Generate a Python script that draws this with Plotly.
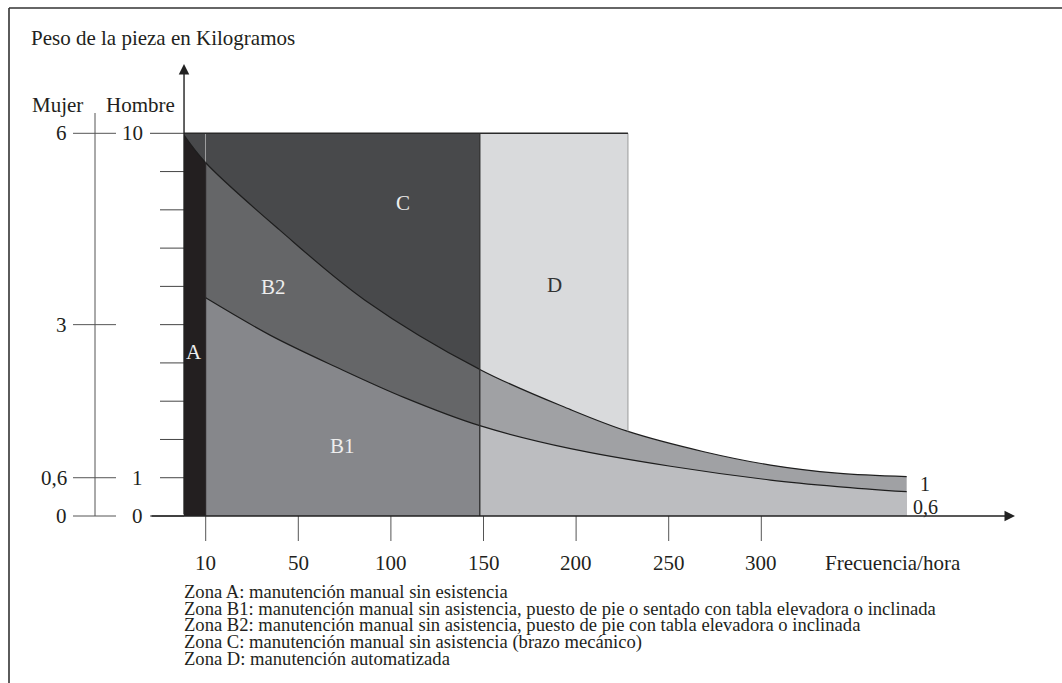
import plotly.graph_objects as go

# ---------------- data ----------------
freq_tick_labels = ["10", "50", "100", "150", "200", "250", "300"]
freq_tick_pos = [0, 50, 100, 150, 200, 250, 300]

hombre_ticks = [0, 1, 2, 3, 4, 5, 6, 7, 8, 9, 10]
hombre_labeled = {0: "0", 1: "1", 10: "10"}
mujer_values = [0, 0.6, 3, 6]
mujer_labels = ["0", "0,6", "3", "6"]
mujer_factor = 0.6

# boundary curves (x = frequency-axis position, y = kg, Hombre scale)
upper_x = [-11.7, 0, 40, 86, 148, 197, 228, 269, 305, 341, 378.5]
upper_y = [9.95, 9.23, 7.47, 5.64, 3.83, 2.78, 2.21, 1.68, 1.33, 1.12, 1.03]
lower_x = [0, 35, 71, 107, 148, 197, 251, 305, 341, 378.5]
lower_y = [5.70, 4.72, 3.88, 3.10, 2.36, 1.76, 1.30, 0.94, 0.77, 0.635]

axis_start = -11.7
zone_a_end = 0
zone_bc_end = 148
zone_d_end = 228
weight_max = 10

zone_names = ["C", "B2", "A", "B1", "D"]
end_labels = ["1", "0,6"]
footnotes = [
    "Zona A: manutención manual sin esistencia",
    "Zona B1: manutención manual sin asistencia, puesto de pie o sentado con tabla elevadora o inclinada",
    "Zona B2: manutención manual sin asistencia, puesto de pie con tabla elevadora o inclinada",
    "Zona C: manutención manual sin asistencia (brazo mecánico)",
    "Zona D: manutención automatizada",
]
title = "Peso de la pieza en Kilogramos"
x_title = "Frecuencia/hora"

# ---------------- layout geometry ----------------
W, H = 1062, 683
X0PX, XS = 205.7, 1.852      # pixel of x=0, pixels per unit
Y0PX, YS = 516.0, 38.27      # pixel of y=0, pixels per unit


def X(px):
    return (px - X0PX) / XS


def Y(py):
    return (Y0PX - py) / YS


xmin, xmax = X(0), X(W)
ymin, ymax = Y(H), Y(0)


def dom(v):
    return (v - xmin) / (xmax - xmin)


FONT = "Liberation Serif"
TXT = "#231f20"
C_A, C_C, C_B2, C_B1 = "#231f20", "#48494b", "#656668", "#86878b"
C_D, C_BAND, C_LOW = "#d9dadc", "#a0a1a4", "#bcbdc0"
LINE = "#1e1e1e"

fig = go.Figure()


def area(x, y, color, xa, shape="linear"):
    fig.add_trace(go.Scatter(x=x, y=y, xaxis=xa, yaxis="y", mode="lines",
                             line=dict(width=0, shape=shape, smoothing=1.0, color=color),
                             fill="tozeroy", fillcolor=color, hoverinfo="skip",
                             showlegend=False))


def curve(x, y, xa):
    fig.add_trace(go.Scatter(x=x, y=y, xaxis=xa, yaxis="y", mode="lines",
                             line=dict(width=1.2, shape="spline", smoothing=1.0, color=LINE),
                             hoverinfo="skip", showlegend=False))


# zone A subplot
area([axis_start, zone_a_end], [weight_max, weight_max], C_C, "x")
area(upper_x, upper_y, C_A, "x", "spline")
curve(upper_x, upper_y, "x")
# zones B / C subplot
area([zone_a_end, zone_bc_end], [weight_max, weight_max], C_C, "x2")
area(upper_x, upper_y, C_B2, "x2", "spline")
area(lower_x, lower_y, C_B1, "x2", "spline")
curve(upper_x, upper_y, "x2")
curve(lower_x, lower_y, "x2")
# right subplot (D and tails)
area([zone_bc_end, zone_d_end], [weight_max, weight_max], C_D, "x3")
area(upper_x, upper_y, C_BAND, "x3", "spline")
area(lower_x, lower_y, C_LOW, "x3", "spline")
curve(upper_x, upper_y, "x3")
curve(lower_x, lower_y, "x3")

shapes = []


def seg(x0, y0, x1, y1, color="#333333", width=1.2):
    shapes.append(dict(type="line", xref="x4", yref="y", x0=x0, y0=y0, x1=x1, y1=y1,
                       line=dict(color=color, width=width), layer="above"))


u_at_a = upper_y[upper_x.index(zone_a_end)]
u_at_d = upper_y[upper_x.index(zone_d_end)]
seg(zone_a_end, 0, zone_a_end, u_at_a, C_A, 1)
seg(zone_bc_end, 0, zone_bc_end, weight_max, "#2a2a2a", 1.3)
seg(zone_d_end, u_at_d, zone_d_end, weight_max, "#9a9a9a", 1)
seg(axis_start, weight_max, zone_d_end, weight_max, "#2a2a2a", 1.5)

# frame
seg(X(9), Y(H), X(9), Y(8), "#333333", 1.6)
seg(X(9), Y(8), X(W), Y(8), "#333333", 1.6)

# x ticks
for p in freq_tick_pos:
    seg(p, 0, p, Y(541), "#555555", 1)
# Hombre ticks
for v in hombre_ticks:
    start = X(150) if v in (0, weight_max) else X(160)
    seg(start, v, axis_start, v, "#444444", 1)
# Mujer axis
seg(X(95), 0, X(95), Y(113), "#555555", 1)
for m in mujer_values:
    seg(X(73), m / mujer_factor, X(116), m / mujer_factor, "#555555", 1)

ann = []


def text(x, y, s, size=21, color=TXT, xanchor="center"):
    ann.append(dict(xref="x4", yref="y", x=x, y=y, text=s, showarrow=False,
                    xanchor=xanchor, yanchor="middle",
                    font=dict(family=FONT, size=size, color=color)))


# axis arrows
ann.append(dict(xref="x4", yref="y", axref="x4", ayref="y", x=axis_start, y=Y(64),
                ax=axis_start, ay=0, text="", showarrow=True, arrowhead=2, arrowsize=1.5,
                arrowwidth=1.4, arrowcolor="#222222", standoff=0))
ann.append(dict(xref="x4", yref="y", axref="x4", ayref="y", x=X(1015), y=0,
                ax=X(150), ay=0, text="", showarrow=True, arrowhead=2, arrowsize=1.5,
                arrowwidth=1.4, arrowcolor="#222222", standoff=0))

for p, lab in zip(freq_tick_pos, freq_tick_labels):
    text(p, Y(563), lab)
text(X(823), Y(563), x_title, xanchor="left")

for v, lab in hombre_labeled.items():
    text(X(145), v, lab, xanchor="right")
for m, lab in zip(mujer_values, mujer_labels):
    text(X(69), m / mujer_factor, lab, xanchor="right")

text(X(29), Y(38), title, xanchor="left")
text(X(30), Y(105), "Mujer", xanchor="left")
text(X(104), Y(105), "Hombre", xanchor="left")

zone_label_px = [(403, 203), (273, 287), (194, 352), (342, 446), (554, 285)]
zone_label_col = ["#eeeeee", "#eeeeee", "#eeeeee", "#eeeeee", "#333333"]
for (px, py), name, col in zip(zone_label_px, zone_names, zone_label_col):
    text(X(px), Y(py), name, 21, col)

text(X(925), Y(484), end_labels[0], 20)
text(X(925), Y(507), end_labels[1], 20)

for i, line in enumerate(footnotes):
    text(X(182), Y(591.7 + 16.6 * i), line, 18.6, xanchor="left")

ax_common = dict(visible=False, fixedrange=True, anchor="y")
fig.update_layout(
    width=W, height=H, autosize=False,
    margin=dict(l=0, r=0, t=0, b=0, pad=0),
    paper_bgcolor="white", plot_bgcolor="rgba(0,0,0,0)",
    showlegend=False,
    xaxis=dict(domain=[dom(axis_start), dom(zone_a_end)], range=[axis_start, zone_a_end], **ax_common),
    xaxis2=dict(domain=[dom(zone_a_end), dom(zone_bc_end)], range=[zone_a_end, zone_bc_end], **ax_common),
    xaxis3=dict(domain=[dom(zone_bc_end), 1], range=[zone_bc_end, xmax], **ax_common),
    xaxis4=dict(domain=[0, 1], range=[xmin, xmax], **ax_common),
    yaxis=dict(domain=[0, 1], range=[ymin, ymax], visible=False, fixedrange=True),
    shapes=shapes,
    annotations=ann,
)

fig.write_html("out.html", config={"displayModeBar": False, "staticPlot": True},
               post_script="document.body.style.margin='0';document.body.style.overflow='hidden';")
